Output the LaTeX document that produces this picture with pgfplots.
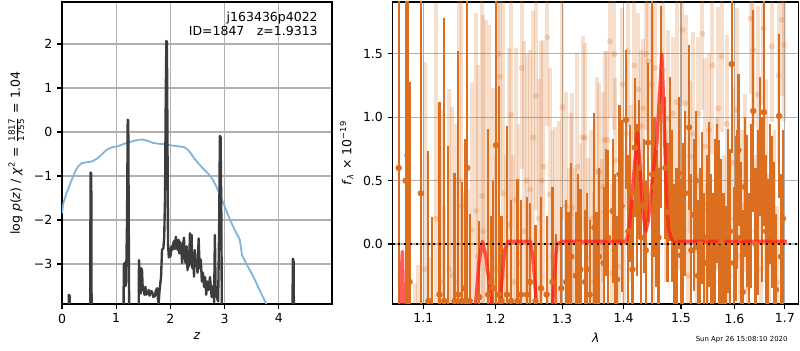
\documentclass[border=0pt]{standalone}
\usepackage{fontspec}
\setmainfont{DejaVu Sans}
\usepackage{pgfplots}
\usepackage{pgfplotstable}
\pgfplotsset{compat=1.18}
\definecolor{darkor}{RGB}{220,110,32}
\definecolor{gridc}{RGB}{176,176,176}
\definecolor{pzblue}{RGB}{128,180,218}
\definecolor{pzblack}{RGB}{60,60,60}
\definecolor{modred}{RGB}{255,30,20}

\pgfplotstableread{
x y e
1.0677 0.60 2.50
1.0767 0.50 2.40
1.0792 0.70 2.20
1.0818 -0.30 1.58
1.0967 0.40 2.60
1.1067 -0.45 1.18
1.1120 -0.50 0.71
1.1215 -0.40 1.52
1.1280 -0.45 2.23
1.1325 -0.50 1.27
1.1420 -0.45 1.01
1.1470 -0.40 1.92
1.1520 -0.45 0.94
1.1560 -0.35 1.18
1.1595 0.60 2.40
1.1630 -0.45 0.69
1.1765 -0.42 0.60
1.1892 -0.40 1.31
1.1930 -0.30 0.52
1.1965 -0.35 0.85
1.2005 0.78 1.60
1.2045 -0.40 1.65
1.2085 -0.45 0.67
1.2165 -0.40 1.33
1.2225 -0.45 0.80
1.2320 -0.45 0.96
1.2370 -0.40 0.75
1.2460 -0.40 0.77
1.2507 -0.30 0.62
1.2590 -0.45 0.60
1.2673 -0.35 0.72
1.2759 -0.40 0.62
1.2850 -0.30 0.75
1.2910 -0.50 0.58
1.2987 -0.35 0.64
1.3064 -0.30 0.65
1.3140 -0.10 0.74
1.3215 -0.25 0.50
1.3290 -0.20 0.63
1.3365 -0.30 0.57
1.3440 -0.40 0.59
1.3515 0.13 0.90
1.3590 -0.10 0.70
1.3665 -0.15 0.60
1.3740 0.05 0.69
1.3815 0.26 0.57
1.3890 -0.28 0.50
1.3965 0.30 0.68
1.4040 0.98 0.55
1.4115 0.40 0.54
1.4190 0.76 0.55
1.4265 0.60 0.54
1.4340 0.30 0.53
1.4415 0.80 0.63
1.4490 0.55 1.40
1.4565 0.20 0.54
1.4640 1.08 0.80
1.4720 0.60 0.56
1.4800 0.67 0.65
1.4880 -0.13 0.60
1.4960 0.56 0.60
1.5040 0.10 0.70
1.5150 0.92 0.65
1.5230 0.23 0.60
1.5310 -0.25 0.60
1.5390 0.28 0.60
1.5470 0.05 0.65
1.5550 -0.05 0.60
1.5630 0.18 0.65
1.5710 0.12 0.70
1.5790 -0.20 0.60
1.5870 0.26 0.65
1.5945 1.42 0.70
1.6020 0.20 0.65
1.6076 0.74 0.60
1.6160 -0.38 0.65
1.6240 0.26 0.60
1.6320 0.30 0.65
1.6366 1.05 0.80
1.6450 0.25 0.65
1.6498 0.77 0.55
1.6578 1.04 0.90
1.6660 -0.14 0.65
1.6740 0.25 0.60
1.6820 -0.36 0.60
1.6883 1.01 0.65
1.6960 0.20 0.70
1.4840 0.30 0.60
1.4920 0.05 0.55
1.5000 -0.09 0.60
1.5080 0.40 0.65
1.5190 -0.05 0.60
1.5270 0.50 0.55
1.5350 0.00 0.60
1.5430 -0.15 0.55
1.5510 0.31 0.65
1.5590 -0.20 0.60
1.5670 0.40 0.55
1.5750 0.02 0.65
1.5830 -0.30 0.60
1.5910 0.10 0.65
1.5990 -0.15 0.60
1.6050 0.35 0.55
1.6120 0.05 0.60
1.6200 0.45 0.55
1.6280 -0.20 0.60
1.6410 0.00 0.60
1.6540 0.35 0.65
1.6620 0.10 0.60
1.6700 0.40 0.55
1.6780 0.05 0.60
1.6920 -0.10 0.65
1.3100 -0.35 0.60
1.3250 0.00 0.55
1.3400 -0.20 0.60
1.3550 -0.30 0.55
1.3700 0.25 0.50
1.3850 -0.05 0.60
1.3930 0.55 0.55
1.4080 0.10 0.60
1.4150 -0.20 0.55
1.4230 0.35 0.60
1.4300 0.05 0.55
1.4380 -0.05 0.55
1.4530 0.45 0.55
1.4600 0.05 0.55
1.4760 0.25 0.55
}\darkdata

\pgfplotstableread{
x y e
1.0893 -0.80 0.49
1.0923 -0.70 0.53
1.1021 -0.20 1.64
1.1080 -0.70 0.60
1.1172 0.20 1.70
1.1237 -0.30 1.36
1.1281 -0.60 0.90
1.1346 -0.20 1.42
1.1390 -0.25 1.33
1.1436 -0.30 1.25
1.1480 0.50 1.90
1.1517 0.30 2.00
1.1560 -0.45 0.85
1.1605 -0.50 0.93
1.1658 0.11 1.16
1.1719 0.26 1.56
1.1747 -0.10 1.51
1.1808 0.38 1.60
1.1822 0.10 1.71
1.1867 -0.20 1.97
1.1912 0.00 1.73
1.1958 -0.30 1.53
1.2000 -0.20 0.90
1.2038 1.50 0.80
1.2063 1.32 0.90
1.2105 0.40 1.60
1.2150 -0.25 0.95
1.2190 0.15 1.40
1.2224 1.02 0.90
1.2260 -0.30 1.00
1.2293 0.35 1.20
1.2335 -0.15 1.10
1.2381 1.39 0.80
1.2420 0.10 1.50
1.2460 0.50 1.00
1.2507 0.43 1.10
1.2557 0.84 1.00
1.2592 1.17 0.90
1.2640 0.20 1.10
1.2680 0.50 1.10
1.2710 0.61 1.00
1.2770 1.63 0.70
1.2809 0.39 1.00
1.2850 -0.10 1.00
1.2885 0.02 0.90
1.2950 -0.03 1.00
1.3003 1.08 0.90
1.3060 0.30 0.90
1.3100 -0.20 0.80
1.3139 0.23 0.80
1.3160 0.29 0.90
1.3200 -0.10 0.70
1.3242 0.61 0.90
1.3290 0.00 0.80
1.3327 0.84 0.80
1.3359 0.84 0.75
1.3417 -0.12 0.80
1.3460 0.20 0.70
1.3500 -0.30 0.70
1.3560 0.57 0.75
1.3596 0.57 0.70
1.3640 -0.03 0.70
1.3662 0.45 0.75
1.3683 0.82 0.70
1.3728 0.82 0.70
1.3772 1.60 0.60
1.3800 -0.23 0.70
1.3845 1.50 0.60
1.3856 0.66 0.65
1.3920 -0.18 0.70
1.3979 1.26 0.60
1.4003 0.03 0.70
1.4048 0.87 0.60
1.4068 1.52 0.60
1.4120 0.40 0.70
1.4182 1.41 0.60
1.4251 1.22 0.60
1.4297 0.93 0.60
1.4336 1.07 0.55
1.4383 1.50 0.60
1.4423 1.44 0.60
1.4482 1.26 0.60
1.4500 -0.07 0.60
1.4540 1.39 0.60
1.4600 0.60 0.60
1.4686 1.37 0.60
1.4740 0.30 0.60
1.4775 0.99 0.70
1.4853 1.03 0.60
1.4900 -0.20 0.60
1.4924 1.12 0.80
1.4980 0.40 0.60
1.5026 1.69 0.60
1.5092 1.11 0.70
1.5130 -0.25 0.60
1.5166 0.69 0.60
1.5227 0.87 0.80
1.5290 -0.05 0.60
1.5319 1.03 0.60
1.5393 1.66 0.60
1.5442 0.77 0.70
1.5480 -0.13 0.60
1.5516 0.90 0.60
1.5579 1.41 0.70
1.5620 -0.30 0.60
1.5660 0.40 0.60
1.5692 1.07 0.80
1.5755 1.48 0.60
1.5800 0.10 0.60
1.5851 0.95 0.70
1.5900 -0.25 0.60
1.5965 0.64 0.60
1.6041 1.06 0.80
1.6100 -0.10 0.60
1.6150 0.30 0.60
1.6205 0.48 0.70
1.6260 -0.35 0.60
1.6316 1.78 0.60
1.6367 1.53 0.60
1.6410 0.10 0.60
1.6455 1.18 0.70
1.6510 -0.20 0.60
1.6567 1.70 0.60
1.6620 0.50 0.80
1.6680 -0.05 0.60
1.6734 1.56 0.60
1.6790 0.20 0.70
1.6840 -0.30 0.60
1.6870 1.33 0.70
1.6939 1.77 0.60
1.6986 1.57 0.60
}\lightdata

\pgfplotsset{
  myax/.style={
    scale only axis, anchor=south west,
    height=217.44pt,
    grid=major, grid style={gridc, line width=0.8pt},
    tick align=outside, tick pos=left, major tick length=3.5pt,
    tick style={black, line width=0.8pt},
    axis line style={line width=0.8pt},
    tick label style={font=\fontsize{9}{10}\selectfont},
    label style={font=\fontsize{9}{10}\selectfont},
    minor tick num=0,
  }
}

\begin{document}
\begin{tikzpicture}
\path[use as bounding box] (0,0) rectangle (576pt,252pt);

\begin{axis}[myax, at={(44.64pt,33.12pt)}, width=194.4pt,
  xmin=0, xmax=4.98, ymin=-3.91, ymax=2.955,
  xtick={0,1,2,3,4}, xticklabels={0,1,2,3,4},
  ytick={-3,-2,-1,0,1,2}, yticklabels={−3,−2,−1,0,1,2},
  xlabel={\textit{z}},
  ylabel={log \textit{p}(\textit{z}) / \textit{χ}\textsuperscript{2} = $\frac{\mbox{\fontsize{6.3}{7}\selectfont 1817}}{\mbox{\fontsize{6.3}{7}\selectfont 1755}}$ = 1.04},
]
\addplot[pzblue, line width=1.3pt, line join=round] coordinates {
(0,-1.85) (0.025,-1.62) (0.08,-1.40) (0.15,-1.18) (0.24,-0.90) (0.30,-0.78) (0.363,-0.71) (0.45,-0.69) (0.55,-0.67) (0.63,-0.62) (0.72,-0.53) (0.82,-0.41) (0.86,-0.38) (0.95,-0.34) (1.04,-0.32) (1.10,-0.29) (1.19,-0.25) (1.30,-0.21) (1.40,-0.18) (1.47,-0.17) (1.55,-0.19) (1.62,-0.22) (1.685,-0.25) (1.80,-0.27) (1.90,-0.28) (1.99,-0.30) (2.10,-0.32) (2.24,-0.34) (2.30,-0.38) (2.36,-0.46) (2.44,-0.60) (2.52,-0.72) (2.60,-0.83) (2.70,-0.95) (2.78,-1.08) (2.85,-1.25) (2.92,-1.45) (2.98,-1.63) (3.05,-1.85) (3.13,-2.08) (3.20,-2.26) (3.28,-2.45) (3.32,-2.80) (3.42,-3.04) (3.53,-3.29) (3.64,-3.58) (3.76,-3.89) (3.85,-4.1)
};
\addplot[pzblack, line width=1.7pt, line join=round] coordinates {
(0.000,-6) (0.110,-6) (0.125,-3.70) (0.140,-3.72) (0.150,-6) (0.515,-6) (0.527,-0.92) (0.540,-0.95) (0.550,-6)
(1.125,-6) (1.140,-3.05) (1.150,-2.98) (1.158,-3.45) (1.165,-2.98) (1.172,-3.50) (1.182,-3.40) (1.200,-2.0) (1.212,0.28) (1.222,0.25) (1.235,-3.0) (1.245,-6)
(1.405,-6) (1.420,-2.91) (1.435,-3.30) (1.451,-3.67) (1.465,-3.10) (1.476,-3.14) (1.490,-3.60) (1.507,-3.55) (1.520,-3.70) (1.538,-3.52) (1.552,-3.70) (1.568,-3.63) (1.585,-3.68) (1.599,-3.59) (1.615,-3.72) (1.630,-3.67) (1.645,-3.62) (1.660,-3.63) (1.685,-3.75) (1.710,-3.73) (1.730,-3.62) (1.753,-3.55) (1.770,-3.80) (1.783,-3.89) (1.800,-3.6) (1.827,-3.29) (1.845,-2.68) (1.870,-2.64) (1.885,-2.4) (1.900,-1.5) (1.915,1.0) (1.925,2.07) (1.935,2.05) (1.945,0.0) (1.955,-2.53)
(1.970,-2.85) (1.985,-2.65) (2.000,-2.83) (2.020,-2.60) (2.035,-2.68) (2.050,-2.55) (2.065,-2.48) (2.080,-2.66) (2.100,-2.38) (2.120,-2.62) (2.135,-2.68) (2.150,-2.45) (2.165,-2.76) (2.180,-2.50) (2.200,-2.62) (2.215,-2.98) (2.235,-2.55) (2.250,-2.40) (2.265,-2.85) (2.280,-2.98) (2.300,-2.60) (2.315,-3.14) (2.330,-2.80) (2.345,-3.05) (2.360,-2.30) (2.375,-3.00) (2.390,-2.34) (2.405,-3.10) (2.420,-2.75) (2.435,-3.29) (2.450,-2.68) (2.465,-3.00) (2.480,-2.90) (2.500,-3.20) (2.520,-2.42) (2.540,-3.10) (2.560,-2.90) (2.580,-3.40) (2.600,-3.20) (2.620,-3.52) (2.640,-3.30) (2.660,-3.70) (2.680,-3.40) (2.700,-3.59) (2.730,-3.30) (2.760,-3.75) (2.790,-3.50) (2.805,-3.87) (2.820,-2.34) (2.835,-3.74) (2.850,-3.60) (2.866,-3.80) (2.880,-3.85) (2.900,-2.0) (2.912,-0.09) (2.925,-0.12) (2.940,-2.0) (2.955,-6)
(4.240,-6) (4.258,-2.88) (4.272,-2.95) (4.285,-6) (4.98,-6)
};
\node[anchor=north east, align=right, font=\fontsize{9}{10}\selectfont, inner sep=0pt] at (rel axis cs:0.948,0.968) {j163436p4022\\ID=1847\quad z=1.9313};
\end{axis}

\begin{axis}[myax, at={(282.7pt,33.12pt)}, width=292.5pt,
  xmode=log, xmin=1.06, xmax=1.729, ymin=-0.474, ymax=1.91,
  xtick={1.1,1.2,1.3,1.4,1.5,1.6,1.7}, xticklabels={1.1,1.2,1.3,1.4,1.5,1.6,1.7},
  xminorticks=false,
  ytick={0,0.5,1,1.5}, yticklabels={0.0,0.5,1.0,1.5},
  xlabel={\textit{λ}},
  ylabel={\textit{f}\textsubscript{\textit{λ}} × 10\textsuperscript{−19}},
]
\addplot[color=darkor, only marks, mark=*, mark size=2.2pt, mark options={draw opacity=0, fill=darkor, fill opacity=0.25},
  error bars/.cd, y dir=both, y explicit, error mark=none,
  error bar style={line width=2.8pt, draw=darkor, draw opacity=0.22}]
  table[x=x, y=y, y error=e] {\lightdata};
\addplot[color=darkor, only marks, mark=*, mark size=2.1pt, mark options={draw=darkor, fill=darkor},
  error bars/.cd, y dir=both, y explicit, error mark=none,
  error bar style={line width=1.5pt, draw=darkor}]
  table[x=x, y=y, y error=e] {\darkdata};
\addplot[modred, opacity=0.72, line width=2.5pt, line join=round] coordinates {
(1.0700,-1.5) (1.0715,-0.2) (1.0725,-0.06) (1.0740,-0.5) (1.0760,-1.5) (1.120,-3) (1.165,-1.5) (1.1715,-0.47) (1.176,-0.15) (1.181,0.02) (1.186,-0.1) (1.193,-0.4) (1.2015,-1.0) (1.2035,-1.0) (1.208,-0.35) (1.213,-0.05) (1.218,0.02) (1.251,0.02) (1.255,-0.1) (1.260,-0.45) (1.264,-1.2) (1.274,-2) (1.282,-1.0) (1.286,-0.4) (1.2916,0.0) (1.302,0.02) (1.405,0.02) (1.410,0.15) (1.4155,0.45) (1.4234,0.88) (1.428,0.6) (1.433,0.25) (1.4378,0.1) (1.442,0.18) (1.448,0.45) (1.454,0.7) (1.457,0.8) (1.4615,1.15) (1.4658,1.5) (1.4695,1.05) (1.4735,0.45) (1.4775,0.12) (1.4830,0.04) (1.488,0.02) (1.704,0.02)
};
\addplot[black, line width=1.4pt, dash pattern=on 1.4pt off 2.8pt] coordinates {(1.06,0) (1.729,0)};
\end{axis}

\node[font=\fontsize{5}{6}\selectfont] at (534pt,7.2pt) {Sun Apr 26 15:08:10 2020};
\end{tikzpicture}
\end{document}
